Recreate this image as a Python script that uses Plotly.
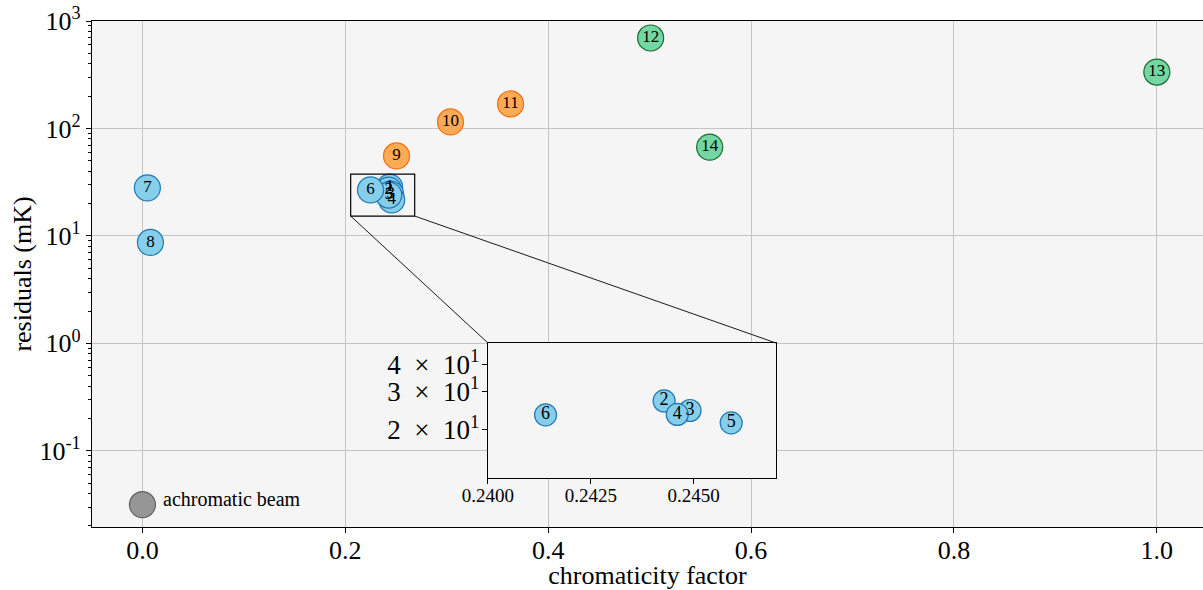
import math
import plotly.graph_objects as go

# ---------------- data ----------------
blue_labels = ["1", "2", "3", "4", "5", "6", "7", "8"]
blue_x = [0.2437, 0.2428, 0.2447, 0.2457, 0.2428, 0.2249, 0.0049, 0.0079]
blue_y = [28.5, 26.7, 24.5, 21.6, 24.0, 26.8, 28.0, 8.7]

orange_labels = ["9", "10", "11"]
orange_x = [0.2505, 0.3037, 0.3629]
orange_y = [55.5, 115.0, 169.0]

green_labels = ["12", "13", "14"]
green_x = [0.5010, 1.0000, 0.5592]
green_y = [695.0, 335.0, 67.0]

achro_label = "achromatic beam"
achro_x = [0.0]
achro_y = [0.0315]

inset_labels = ["2", "3", "4", "5", "6"]
inset_x = [0.24428, 0.24491, 0.24460, 0.24591, 0.24140]
inset_y = [27.1, 24.5, 23.5, 21.5, 23.4]

x_ticks = [0.0, 0.2, 0.4, 0.6, 0.8, 1.0]
x_ticktext = ["0.0", "0.2", "0.4", "0.6", "0.8", "1.0"]
y_ticks = [0.1, 1, 10, 100, 1000]
y_ticktext = ["10<sup>-1</sup>", "10<sup>0</sup>", "10<sup>1</sup>", "10<sup>2</sup>", "10<sup>3</sup>"]

inset_xticks = [0.2400, 0.2425, 0.2450]
inset_xticktext = ["0.2400", "0.2425", "0.2450"]
inset_yticks = [20, 30, 40]
SEP = "\u2002"
inset_yticktext = [f"2{SEP}×{SEP}10<sup>1</sup>", f"3{SEP}×{SEP}10<sup>1</sup>",
                   f"4{SEP}×{SEP}10<sup>1</sup>"]

# zoom rectangle drawn on the main axes
rect_x = [0.2053, 0.2684]
rect_y = [15.3, 37.6]

# ---------------- layout constants ----------------
FONT = "Liberation Serif"
XR = [-0.0497, 1.0455]
YR = [-1.709, 3.0]
IXR = [0.2400, 0.2470]
IYR = [math.log10(12.0), math.log10(50.0)]
INSET_DX = [0.3564, 0.6157]
INSET_DY = [0.0968, 0.3636]

BLUE_F, BLUE_E = "#87ceeb", "#1f77b4"
ORANGE_F, ORANGE_E = "#ffaa55", "#f07010"
GREEN_F, GREEN_E = "#74d6a0", "#176b34"
GRAY_F, GRAY_E = "#969696", "#5f5f5f"

fig = go.Figure()


def add_group(x, y, labels, fill, edge, size=26, xa="x", ya="y", fs=17):
    fig.add_trace(go.Scatter(
        x=x, y=y, text=labels, mode="markers+text", textposition="middle center",
        marker=dict(size=size, color=fill, line=dict(color=edge, width=1.2)),
        textfont=dict(family=FONT, size=fs, color="black"),
        xaxis=xa, yaxis=ya, showlegend=False, hoverinfo="skip", cliponaxis=False))


add_group(blue_x, blue_y, blue_labels, BLUE_F, BLUE_E)
add_group(orange_x, orange_y, orange_labels, ORANGE_F, ORANGE_E)
add_group(green_x, green_y, green_labels, GREEN_F, GREEN_E)
fig.add_trace(go.Scatter(
    x=achro_x, y=achro_y, mode="markers",
    marker=dict(size=26, color=GRAY_F, line=dict(color=GRAY_E, width=1.2)),
    showlegend=False, hoverinfo="skip"))
fig.add_annotation(x=achro_x[0], y=math.log10(achro_y[0]), xref="x", yref="y",
                   text=achro_label, showarrow=False, xanchor="left", xshift=19, yshift=6,
                   font=dict(family=FONT, size=20, color="black"))

add_group(inset_x, inset_y, inset_labels, BLUE_F, BLUE_E, size=22, xa="x2", ya="y2", fs=18)

axis_common = dict(showline=True, linecolor="black", linewidth=1.2, ticks="outside",
                   tickcolor="black", ticklen=5, zeroline=False)

fig.update_layout(
    width=1203, height=590,
    margin=dict(l=92, r=0, t=21, b=63),
    paper_bgcolor="white", plot_bgcolor="#f5f5f5",
    font=dict(family=FONT, color="black"),
    xaxis=dict(range=XR, domain=[0, 1], tickvals=x_ticks, ticktext=x_ticktext,
               tickfont=dict(size=26), showgrid=True, gridcolor="#c4c4c4", gridwidth=1,
               mirror=True, ticklabelstandoff=-5,
               title=dict(text="chromaticity factor", font=dict(size=26), standoff=8),
               **axis_common),
    yaxis=dict(type="log", range=YR, domain=[0, 1], tickvals=y_ticks, ticktext=y_ticktext,
               tickfont=dict(size=26), showgrid=True, gridcolor="#c4c4c4", gridwidth=1,
               minor=dict(ticks="outside", ticklen=3, tickcolor="black", showgrid=False,
                          tickvals=[m * 10.0 ** k for k in range(-2, 3) for m in range(2, 10)]),
               title=dict(text="residuals (mK)", font=dict(size=26), standoff=0),
               **axis_common),
    xaxis2=dict(range=IXR, domain=INSET_DX, anchor="y2", tickvals=inset_xticks,
                ticktext=inset_xticktext, tickfont=dict(size=19), showgrid=False,
                mirror=True, ticklabelstandoff=-5, **axis_common),
    yaxis2=dict(type="log", range=IYR, domain=INSET_DY, anchor="x2", tickvals=inset_yticks,
                ticktext=inset_yticktext, tickfont=dict(size=27), showgrid=False,
                mirror=True, ticklabelstandoff=-3, **axis_common),
)

# zoom rectangle on main axes (shape coordinates on a log axis are data values)
fig.add_shape(type="rect", xref="x", yref="y", x0=rect_x[0], x1=rect_x[1],
              y0=rect_y[0], y1=rect_y[1],
              line=dict(color="black", width=1.2), fillcolor="rgba(0,0,0,0)", layer="above")


def px(x):
    return (x - XR[0]) / (XR[1] - XR[0])


def py(y):
    return (math.log10(y) - YR[0]) / (YR[1] - YR[0])


for xr, xi in [(rect_x[0], INSET_DX[0]), (rect_x[1], INSET_DX[1])]:
    fig.add_shape(type="line", xref="paper", yref="paper",
                  x0=px(xr), y0=py(rect_y[0]), x1=xi, y1=INSET_DY[1],
                  line=dict(color="black", width=0.9), layer="above")

fig.write_html("out.html")
